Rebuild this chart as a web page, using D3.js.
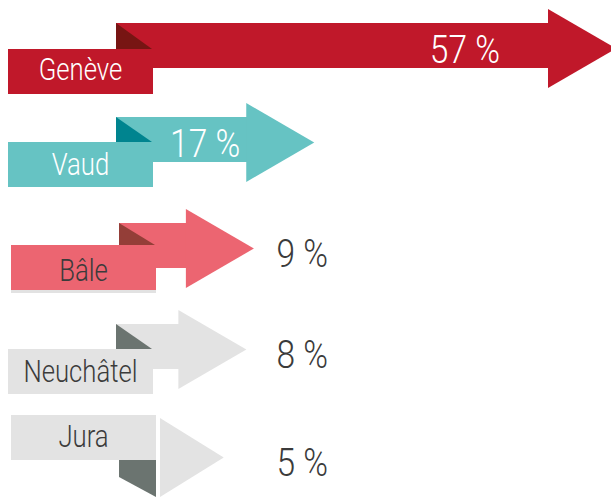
<!DOCTYPE html>
<meta charset="utf-8">
<script src="https://cdn.jsdelivr.net/npm/d3@7"></script>
<style>
body { margin: 0; background: #fff; }
text { font-family: Roboto, "Open Sans", sans-serif; font-weight: 300; }
</style>
<body>
<script>

// data
var categories = ["Genève", "Vaud", "Bâle", "Neuchâtel", "Jura"]
var values = [57, 17, 9, 8, 5]
var valueLabels = ["57 %", "17 %", "9 %", "8 %", "5 %"]

// styles
var fills = ["#c0182a", "#66c3c3", "#ec6571", "#e3e3e3", "#e3e3e3"]
var foldFills = ["#771513", "#00848f", "#943e38", "#6b7470", "#6b7470"]
var labelInk = ["#ffffff", "#ffffff", "#3b3b3b", "#3b3b3b", "#3b3b3b"]
var valueInk = ["#ffffff", "#ffffff", "#3b3b3b", "#3b3b3b", "#3b3b3b"]

// layout (per row nudges, as in the original artwork)
var labelX = [8, 8, 11, 8, 11]
var labelDy = [26, 25, 22, 25, -17]
var labelBase = [31, 33, 36, 33, 32]
var insideDx = [-116, -74]

var width = 611
var height = 497
var shaftH = 45, headLen = 68, headHalf = 39.5, labelW = 145, labelH = 45

var svg = d3.select("body").append("svg")
    .attr("width", width)
    .attr("height", height)
    .style("display", "block")

var x = d3.scaleLinear().domain([0, 57]).range([186, 616])
var y = d3.scaleOrdinal().domain(categories).range([23, 117, 223, 324, 432])

var rows = categories.map(function(c, i) { return {cat: c, v: values[i], i: i} })

// condensed look: squeeze the text horizontally
function narrowText(sel, tx, ty, k) {
  return sel.append("text")
      .attr("transform", "translate(" + tx + "," + ty + ") scale(" + k + ",1)")
}

var g = svg.selectAll(".row")
    .data(rows)
    .enter().append("g")
      .attr("class", "row")

g.each(function(d) {
  var row = d3.select(this)
  var i = d.i
  var top = y(d.cat)
  var x0 = labelX[i] + 108
  var tip = x(d.v)
  var base = tip - headLen
  var mid = top + 25.5
  var lTop = top + labelDy[i]
  var jura = labelDy[i] < 0

  if (!jura) {
    row.append("rect")
        .attr("x", x0).attr("y", top)
        .attr("width", base - x0 + 1).attr("height", shaftH)
        .attr("fill", fills[i])
  }
  var headX = jura ? labelX[i] + labelW + 4 : base
  row.append("path")
      .attr("d", "M" + headX + "," + (mid - headHalf) + "L" + tip + "," + mid + "L" + headX + "," + (mid + headHalf) + "Z")
      .attr("fill", fills[i])

  if (jura) {
    var lb = lTop + labelH
    row.append("path")
        .attr("d", "M" + x0 + "," + lb + "L" + (x0 + 37) + "," + lb + "L" + (x0 + 37) + "," + (top + shaftH + 20) + "L" + x0 + "," + (top + shaftH) + "Z")
        .attr("fill", foldFills[i])
  } else {
    row.append("path")
        .attr("d", "M" + x0 + "," + top + "L" + x0 + "," + lTop + "L" + (x0 + 36) + "," + lTop + "Z")
        .attr("fill", foldFills[i])
  }

  if (i == 2) {
    row.append("rect")
        .attr("x", labelX[i]).attr("y", lTop + labelH)
        .attr("width", labelW).attr("height", 3)
        .attr("fill", "#e2e2e2")
  }

  row.append("rect")
      .attr("x", labelX[i]).attr("y", lTop)
      .attr("width", labelW).attr("height", labelH)
      .attr("fill", fills[i])

  narrowText(row, labelX[i] + labelW / 2, lTop + labelBase[i], 0.83)
      .attr("text-anchor", "middle")
      .attr("font-size", 31)
      .attr("fill", labelInk[i])
      .text(d.cat)

  var inside = i < insideDx.length
  narrowText(row, inside ? tip + insideDx[i] : x(12), inside ? top + 39.5 : mid + 18, 0.86)
      .attr("text-anchor", inside ? "end" : "start")
      .attr("font-size", 39)
      .attr("fill", valueInk[i])
      .text(valueLabels[i])
})

</script>
</body>
